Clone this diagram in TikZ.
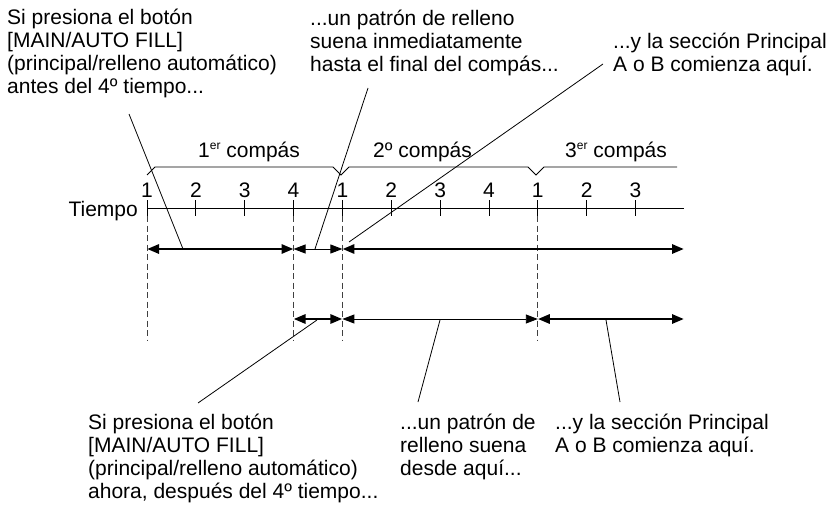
\documentclass[tikz,border=0pt]{standalone}
\usepackage{fontspec}
\setmainfont{Liberation Sans}
\usetikzlibrary{arrows.meta}

\newcommand\supind[1]{\raisebox{7pt}{\fontsize{12}{12}\selectfont #1}}

\begin{document}
\begin{tikzpicture}[
  x=1pt, y=-1pt,
  texto/.style={anchor=base west, align=left, inner sep=0pt,
                font=\fontsize{21}{23}\selectfont},
  cifra/.style={anchor=base, inner sep=0pt, font=\fontsize{21}{23}\selectfont},
  linea/.style={line width=0.9pt},
  guia/.style={line width=0.8pt},
  discontinua/.style={line width=0.9pt, black!75, dash pattern=on 6pt off 3.5pt},
  flechafina/.style={line width=0.9pt,
                     {Triangle[length=12pt, width=9pt]}-{Triangle[length=12pt, width=9pt]}},
  flechagruesa/.style={line width=2.8pt,
                     {Triangle[length=12pt, width=9pt]}-{Triangle[length=12pt, width=9pt]}}
]
\useasboundingbox (0,0) rectangle (837,508);

% textos de arriba (base = ultima linea)
\node[texto] (arribaizq) at (7,94) {Si presiona el botón\\{[}MAIN/AUTO FILL{]}\\(principal/relleno automático)\\antes del 4º tiempo...};
\node[texto] (arribacen) at (310,72) {...un patrón de relleno\\suena inmediatamente\\hasta el final del compás...};
\node[texto] (arribader) at (613,72) {...y la sección Principal\\A o B comienza aquí.};

% compases
\node[texto] (compas1) at (198,157) {1\supind{er} compás};
\node[texto] (compas2) at (373,157) {2º compás};
\node[texto] (compas3) at (565,157) {3\supind{er} compás};
\draw[linea] (147,175) -- (155,167) -- (333,167) -- (341,175) -- (349,167)
  -- (528,167) -- (536,175) -- (544,167) -- (677,167);

% linea de tiempo
\node[cifra, anchor=base east] (tiempo) at (138,216) {Tiempo};
\foreach \i/\n in {0/1,1/2,2/3,3/4,4/1,5/2,6/3,7/4,8/1,9/2,10/3} {
  \coordinate (t\i) at (147+48.85*\i,208);
  \node[cifra] (n\i) at (147+48.85*\i,197) {\n};
  \draw[linea] ([yshift=8pt]t\i) -- ([yshift=-8pt]t\i);
}
\coordinate (fin) at (684,208);
\draw[linea] (t0) -- (fin);
\foreach \i in {0,3,4,8}
  \draw[discontinua] ([yshift=-8pt]t\i) -- ([yshift=-132pt]t\i);

% flechas
\coordinate (fila1) at (0,249);
\coordinate (fila2) at (0,319);
\draw[flechagruesa] (t0 |- fila1) -- (t3 |- fila1);
\draw[flechafina] (t3 |- fila1) -- (t4 |- fila1);
\draw[flechagruesa] (t4 |- fila1) -- (fin |- fila1);
\draw[flechagruesa] (t3 |- fila2) -- (t4 |- fila2);
\draw[flechafina] (t4 |- fila2) -- (t8 |- fila2);
\draw[flechagruesa] (t8 |- fila2) -- (fin |- fila2);

% textos de abajo
\node[texto] (abajoizq) at (88,498) {Si presiona el botón\\{[}MAIN/AUTO FILL{]}\\(principal/relleno automático)\\ahora, después del 4º tiempo...};
\node[texto] (abajocen) at (400,475) {...un patrón de\\relleno suena\\desde aquí...};
\node[texto] (abajoder) at (555,452) {...y la sección Principal\\A o B comienza aquí.};

% lineas guia
\coordinate (g1a) at (129,114);  \coordinate (g1b) at (183,249);
\coordinate (g2a) at (368,88);   \coordinate (g2b) at (315,249);
\coordinate (g3a) at (603,64);   \coordinate (g3b) at (349,242);
\coordinate (g4a) at (317,320);  \coordinate (g4b) at (198,403);
\coordinate (g5a) at (440,320);  \coordinate (g5b) at (418,402);
\coordinate (g6a) at (606,320);  \coordinate (g6b) at (620,402);
\foreach \k in {1,...,6}
  \draw[guia] (g\k a) -- (g\k b);
\end{tikzpicture}
\end{document}
